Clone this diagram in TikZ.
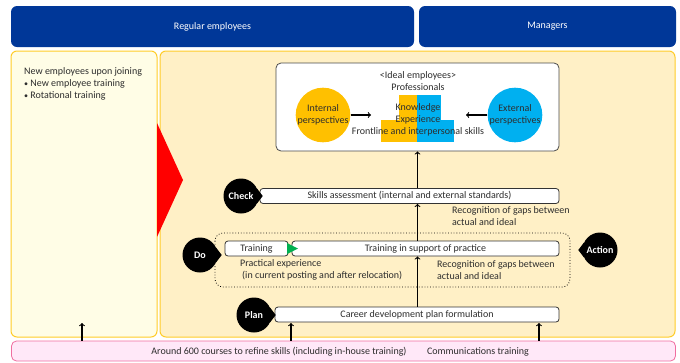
\documentclass[tikz,border=0pt]{standalone}
\usepackage{fontspec}
\setmainfont{Carlito}
\usepackage{tikz}

\definecolor{hdrblue}{RGB}{0,55,152}
\definecolor{panelline}{RGB}{255,204,40}
\definecolor{leftfill}{RGB}{255,253,230}
\definecolor{rightfill}{RGB}{255,240,198}
\definecolor{ylw}{RGB}{255,192,0}
\definecolor{blu}{RGB}{0,176,240}
\definecolor{pinkfill}{RGB}{255,232,248}
\definecolor{pinkline}{RGB}{240,110,160}
\definecolor{grn}{RGB}{0,176,80}
\definecolor{txt}{RGB}{45,45,45}

\tikzset{
  hdr/.style={fill=hdrblue, rounded corners=6pt, text=white, inner sep=0pt},
  panel/.style={draw=panelline, line width=1pt, rounded corners=6pt, inner sep=0pt},
  stepbox/.style={draw=black!80, fill=white, rounded corners=3pt, thick, inner sep=0pt, minimum height=15pt},
  bubble/.style={circle, fill=black, text=white, font=\fontsize{10}{12}\selectfont\bfseries, minimum size=35pt, inner sep=0pt},
  arr/.style={->, line width=1.1pt, black},
}

\begin{document}
\begin{tikzpicture}[x=1pt, y=-1pt, font=\fontsize{10}{12}\selectfont, text=txt]
            \useasboundingbox (0,0) rectangle (680,362);
            % headers
            \node[hdr, minimum width=403pt, minimum height=41pt] (reg) at (212.5,26.5) {Regular employees};
            \node[hdr, minimum width=257pt, minimum height=41pt] (mgr) at (547.5,26.5) {Managers};
            % panels
            \node[panel, fill=leftfill, minimum width=146pt, minimum height=286pt] (newp) at (84,194) {};
            \node[panel, fill=rightfill, minimum width=515pt, minimum height=286pt] (main) at (417.5,194) {};
            \node[anchor=north west, align=left, inner sep=0pt] (join) at (24,67) {New employees upon joining\\ {\footnotesize\textbullet}\ New employee training\\ {\footnotesize\textbullet}\ Rotational training};
            \fill[red] (157,123) -- (183,180) -- (157,237) -- cycle;
            % ideal employees
            \node[draw=black!70, fill=white, rounded corners=5pt, thick, minimum width=283pt, minimum height=88pt] (ideal) at (417.5,107) {};
            \node[align=center, inner sep=0pt] (prof) at (418,81) {<Ideal employees>\\ Professionals};
            \fill[ylw] (399,95) rectangle (417,120);
            \fill[ylw] (381,120) rectangle (417,142);
            \fill[blu] (417,95) rectangle (441,120);
            \fill[blu] (417,120) rectangle (454,142);
            \node[align=center, inner sep=0pt] (skl) at (418,120) {Knowledge\\ Experience\\ Frontline and interpersonal skills};
            \node[circle, fill=ylw, minimum size=46pt, inner sep=0pt, align=center] (int) at (323,115) {Internal\\ perspectives};
            \node[circle, fill=blu, minimum size=46pt, inner sep=0pt, align=center] (ext) at (515,115) {External\\ perspectives};
            \coordinate (intend) at (371,115);
            \coordinate (extend) at (466,115);
            \draw[arr] (int.east) -- (intend);
            \draw[arr] (ext.west) -- (extend);
            % check
            \node[stepbox, minimum width=299pt] (assess) at (409.5,196) {Skills assessment (internal and external standards)};
            \node[bubble] (chk) at (241,196) {Check};
            \fill ([xshift=4pt]chk.east) -- (chk.25) -- (chk.-25) -- cycle;
            \draw[arr] (assess.north -| ideal.south) -- (ideal.south);
            \node[anchor=north west, align=left, inner sep=0pt] (gap1) at (452,206) {Recognition of gaps between\\ actual and ideal};
            % do / action
            \draw[dotted, thick, rounded corners=8pt] (215,233) rectangle (570,287);
            \node[stepbox, minimum width=63pt] (train) at (256.5,248.5) {Training};
            \node[stepbox, minimum width=267pt] (support) at (425.5,248.5) {Training in support of practice};
            \fill[grn] (287,243) -- (298,248.5) -- (287,254) -- cycle;
            \node[bubble] (do) at (200,255) {Do};
            \fill ([xshift=4pt]do.east) -- (do.25) -- (do.-25) -- cycle;
            \node[anchor=north west, align=left, inner sep=0pt] (prac) at (240,259) {Practical experience\\ \hspace{2pt}(in current posting and after relocation)};
            \node[anchor=north west, align=left, inner sep=0pt] (gap2) at (437,260) {Recognition of gaps between\\ actual and ideal};
            \node[bubble] (act) at (600,250) {Action};
            \fill ([xshift=-4pt]act.west) -- (act.155) -- (act.205) -- cycle;
            \draw[arr] (support.north -| ideal.south) -- (assess.south -| ideal.south);
            % plan
            \node[stepbox, minimum width=284pt] (career) at (417,314.5) {Career development plan formulation};
            \node[bubble] (plan) at (254,315) {Plan};
            \fill ([xshift=4pt]plan.east) -- (plan.25) -- (plan.-25) -- cycle;
            \draw[arr] (career.north -| ideal.south) -- (support.south -| ideal.south);
            % courses
            \node[draw=pinkline, fill=pinkfill, thick, rounded corners=5pt, minimum width=664pt, minimum height=20pt, inner sep=0pt] (bar) at (343.5,351) {};
            \node[inner sep=0pt] (crs) at (279,352) {Around 600 courses to refine skills (including in-house training)};
            \node[inner sep=0pt] (comm) at (478,352) {Communications training};
            \coordinate (c0) at (82,323);
            \coordinate (c1) at (291,323);
            \coordinate (c2) at (539,323);
            \draw[arr] (c0 |- bar.north) -- (c0);
            \draw[arr] (c1 |- bar.north) -- (c1);
            \draw[arr] (c2 |- bar.north) -- (c2);
        \end{tikzpicture}
\end{document}
